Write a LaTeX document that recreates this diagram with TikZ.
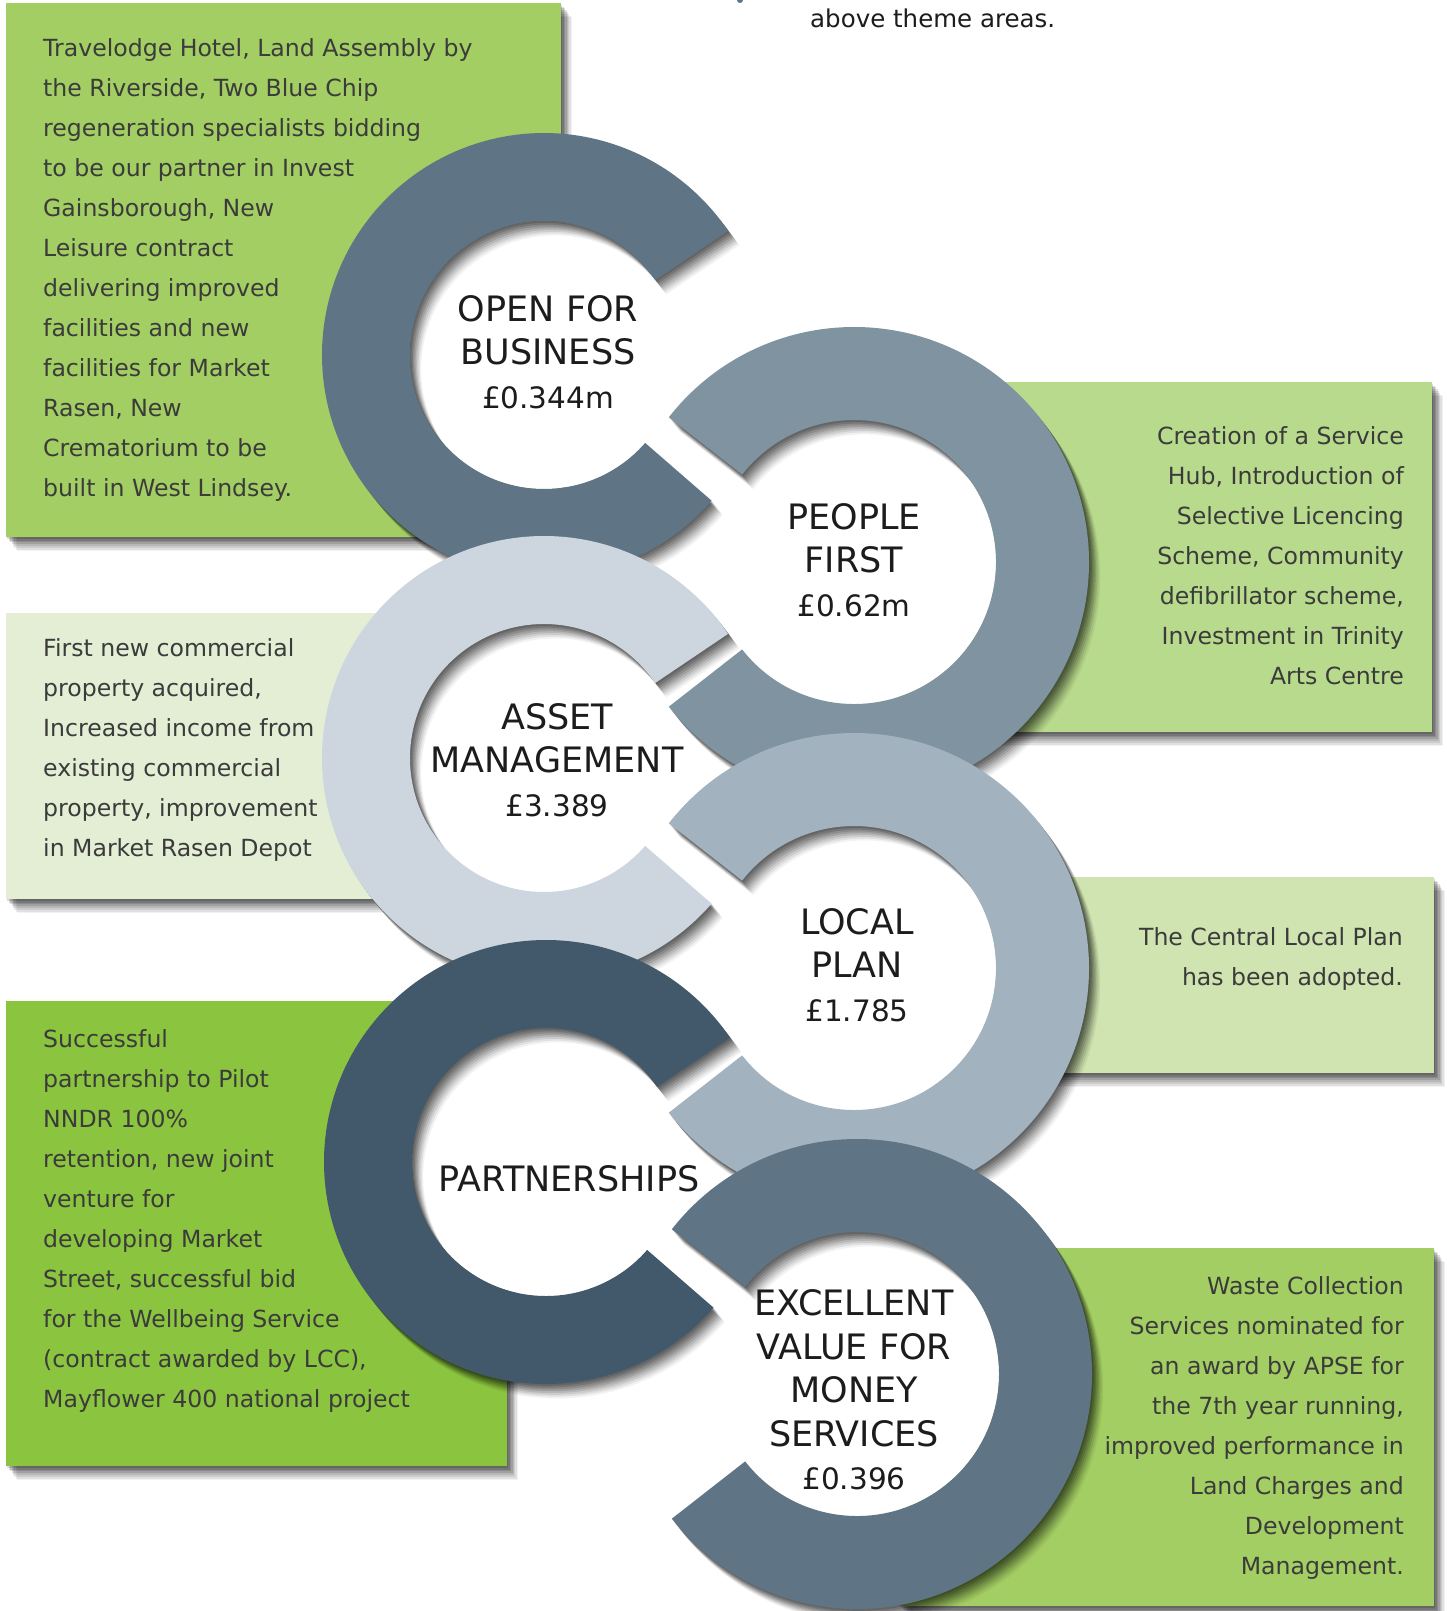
\documentclass[tikz,border=0pt]{standalone}
\usepackage{fontspec}
\setmainfont{DejaVu Sans}
\usetikzlibrary{shadows}

\definecolor{ringA}{HTML}{5F7585}
\definecolor{ringB}{HTML}{7F93A1}
\definecolor{ringC}{HTML}{CDD6DE}
\definecolor{ringD}{HTML}{42596B}
\definecolor{ringE}{HTML}{A2B2BE}
\definecolor{greenA}{HTML}{A3CE63}
\definecolor{greenB}{HTML}{B8DA8C}
\definecolor{greenC}{HTML}{E3EED5}
\definecolor{greenD}{HTML}{CFE4B0}
\definecolor{greenE}{HTML}{8BC53F}
\definecolor{bodygray}{HTML}{3B3B3B}
\definecolor{titlegray}{HTML}{1C1C1C}

\newcommand{\themeamount}[1]{{\fontsize{29.5}{43.5}\selectfont #1}}

\tikzset{
  softshadow/.style={
    drop shadow={shadow xshift=1.4pt,shadow yshift=-1.8pt,opacity=.14,fill=black},
    drop shadow={shadow xshift=2.8pt,shadow yshift=-3.6pt,opacity=.14,fill=black},
    drop shadow={shadow xshift=4.2pt,shadow yshift=-5.4pt,opacity=.13,fill=black},
    drop shadow={shadow xshift=5.6pt,shadow yshift=-7.2pt,opacity=.12,fill=black},
    drop shadow={shadow xshift=7pt,shadow yshift=-9pt,opacity=.1,fill=black},
    drop shadow={shadow xshift=8.4pt,shadow yshift=-10.8pt,opacity=.09,fill=black},
    drop shadow={shadow xshift=9.8pt,shadow yshift=-12.6pt,opacity=.07,fill=black},
    drop shadow={shadow xshift=11.2pt,shadow yshift=-14.4pt,opacity=.05,fill=black}},
  bodytext/.style={inner sep=0pt,text=bodygray,font=\fontsize{23.6}{40}\selectfont},
  ringtitle/.style={inner sep=0pt,text=titlegray,font=\fontsize{35}{43.5}\selectfont},
}

\begin{document}
\begin{tikzpicture}[x=1pt,y=-1pt]
      \fill[white] (0,0) rectangle (1447,1611);
      \useasboundingbox (0,0) rectangle (1447,1611);
      % text boxes behind the rings
      \fill[greenA,softshadow] (6,3) rectangle (561,537);
      \fill[greenB,softshadow] (900,382) rectangle (1432,732);
      \fill[greenC,softshadow] (6,613) rectangle (400,899);
      \fill[greenD,softshadow] (900,877) rectangle (1434,1073);
      \fill[greenE,softshadow] (6,1001) rectangle (507,1466);
      \fill[greenA,softshadow] (900,1248) rectangle (1434,1606);
      % white centres
      \fill[white] (544,355) circle[radius=134];
      \fill[white] (854,562) circle[radius=142];
      \fill[white] (544,758) circle[radius=134];
      \fill[white] (546,1162) circle[radius=134];
      \fill[white] (854,968) circle[radius=142];
      \fill[white] (857,1374) circle[radius=142];
      % rings
      \fill[ringA,softshadow] (544,355) ++(41:222) arc[start angle=41,end angle=326,radius=222] -- ++(326:-88) arc[start angle=326,end angle=41,radius=134] -- cycle;
      \fill[ringB,softshadow] (854,562) ++(218:235) arc[start angle=218,end angle=502,radius=235] -- ++(502:-93) arc[start angle=502,end angle=218,radius=142] -- cycle;
      \fill[ringC,softshadow] (544,758) ++(41:222) arc[start angle=41,end angle=326,radius=222] -- ++(326:-88) arc[start angle=326,end angle=41,radius=134] -- cycle;
      \fill[ringD,softshadow] (546,1162) ++(41:222) arc[start angle=41,end angle=326,radius=222] -- ++(326:-88) arc[start angle=326,end angle=41,radius=134] -- cycle;
      \fill[ringE,softshadow] (854,968) ++(218:235) arc[start angle=218,end angle=502,radius=235] -- ++(502:-93) arc[start angle=502,end angle=218,radius=142] -- cycle;
      \fill[ringA,softshadow] (857,1374) ++(218:235) arc[start angle=218,end angle=502,radius=235] -- ++(502:-93) arc[start angle=502,end angle=218,radius=142] -- cycle;
      % ring titles
      \node[ringtitle] (open) at (548,356) {\begin{tabular}{@{}c@{}} OPEN FOR\\ BUSINESS\\ \themeamount{£0.344m} \end{tabular}};
      \node[ringtitle] (people) at (854,564) {\begin{tabular}{@{}c@{}} PEOPLE\\ FIRST\\ \themeamount{£0.62m} \end{tabular}};
      \node[ringtitle] (asset) at (557,764) {\begin{tabular}{@{}c@{}} ASSET\\ MANAGEMENT\\ \themeamount{£3.389} \end{tabular}};
      \node[ringtitle] (localplan) at (857,969) {\begin{tabular}{@{}c@{}} LOCAL\\ PLAN\\ \themeamount{£1.785} \end{tabular}};
      \node[ringtitle] (partner) at (569,1179) {PARTNERSHIPS};
      \node[ringtitle] (value) at (854,1394) {\begin{tabular}{@{}c@{}} EXCELLENT\\ VALUE FOR\\ MONEY\\ SERVICES\\ \themeamount{£0.396} \end{tabular}};
      % box texts
      \node[bodytext,anchor=north west] (travelodge) at (43,28.5) {\begin{tabular}{@{}l@{}}
        Travelodge Hotel, Land Assembly by\\ the Riverside, Two Blue Chip\\
        regeneration specialists bidding\\ to be our partner in Invest\\
        Gainsborough, New\\ Leisure contract\\ delivering improved\\
        facilities and new\\ facilities for Market\\ Rasen, New\\
        Crematorium to be\\ built in West Lindsey. \end{tabular}};
      \node[bodytext,anchor=north east] (servicehub) at (1404,416) {\begin{tabular}{@{}r@{}}
        Creation of a Service\\ Hub, Introduction of\\ Selective Licencing\\
        Scheme, Community\\ defibrillator scheme,\\ Investment in Trinity\\
        Arts Centre \end{tabular}};
      \node[bodytext,anchor=north west] (property) at (43,628) {\begin{tabular}{@{}l@{}}
        First new commercial\\ property acquired,\\ Increased income from\\
        existing commercial\\ property, improvement\\ in Market Rasen Depot \end{tabular}};
      \node[bodytext,anchor=north east] (adopted) at (1403,917) {\begin{tabular}{@{}r@{}}
        The Central Local Plan\\ has been adopted. \end{tabular}};
      \node[bodytext,anchor=north west] (pilot) at (43,1019) {\begin{tabular}{@{}l@{}}
        Successful\\ partnership to Pilot\\ NNDR 100\%\\ retention, new joint\\
        venture for\\ developing Market\\ Street, successful bid\\
        for the Wellbeing Service\\ (contract awarded by LCC),\\
        Mayflower 400 national project \end{tabular}};
      \node[bodytext,anchor=north east] (waste) at (1404,1266) {\begin{tabular}{@{}r@{}}
        Waste Collection\\ Services nominated for\\ an award by APSE for\\
        the 7th year running,\\ improved performance in\\ Land Charges and\\
        Development\\ Management. \end{tabular}};
      % heading fragment at the top
      \fill[ringA] (740,0) circle[radius=3];
      \node[anchor=base west,inner sep=0pt,text=titlegray,font=\fontsize{24.5}{30}\selectfont] (themes) at (810,28) {above theme areas.};
\end{tikzpicture}
\end{document}
